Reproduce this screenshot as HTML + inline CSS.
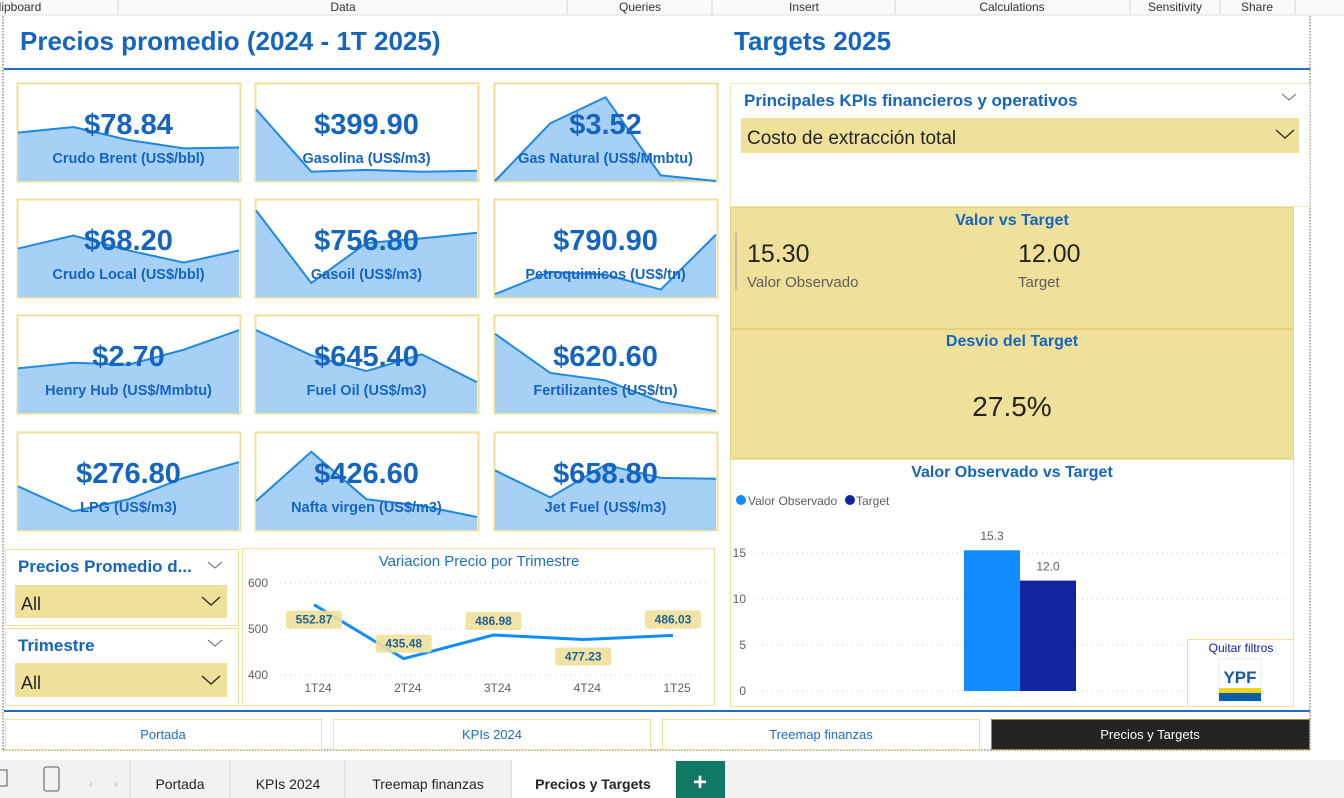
<!DOCTYPE html>
<html><head><meta charset="utf-8"><style>
body{margin:0;width:1344px;height:798px;overflow:hidden;background:#fff;font-family:"Liberation Sans",sans-serif}
svg{display:block}
text{font-family:"Liberation Sans",sans-serif}
</style></head><body>
<svg id="s" width="1344" height="798" viewBox="0 0 1344 798">
<g>
<rect x="0" y="0" width="1344" height="15" fill="#fafafa"/>
<line x1="0" y1="15" x2="1344" y2="15" stroke="#e1dfdd"/>
<g font-size="12" fill="#323130" text-anchor="middle">
<text x="20" y="11">lipboard</text>
<text x="343" y="11">Data</text>
<text x="640" y="11">Queries</text>
<text x="804" y="11">Insert</text>
<text x="1012" y="11">Calculations</text>
<text x="1175" y="11">Sensitivity</text>
<text x="1257" y="11">Share</text>
</g>
<g stroke="#d6d6d6"><line x1="118" y1="0" x2="118" y2="14"/><line x1="567" y1="0" x2="567" y2="14"/><line x1="712" y1="0" x2="712" y2="14"/><line x1="895" y1="0" x2="895" y2="14"/><line x1="1130" y1="0" x2="1130" y2="14"/><line x1="1220" y1="0" x2="1220" y2="14"/><line x1="1295" y1="0" x2="1295" y2="14"/></g>
</g>
<g stroke="#555" stroke-dasharray="1.5 1.5" fill="none">
<line x1="3" y1="16" x2="3" y2="750"/><line x1="1310" y1="16" x2="1310" y2="750"/><line x1="3" y1="750" x2="1310" y2="750"/>
</g>
<line x1="4" y1="69" x2="1310" y2="69" stroke="#1e6fc0" stroke-width="2"/>
<line x1="4" y1="711" x2="1310" y2="711" stroke="#1e6fc0" stroke-width="2"/>
<text x="20" y="50" font-size="26" font-weight="bold" fill="#1565c0">Precios promedio (2024 - 1T 2025)</text>
<text x="734" y="50" font-size="26" font-weight="bold" fill="#1565c0">Targets 2025</text>
<g id="cards"></g>

<g>
<rect x="5.5" y="549.5" width="233" height="76" fill="#fff" stroke="#efe09a"/>
<text x="18" y="572" font-size="17" font-weight="bold" fill="#1565c0">Precios Promedio d...</text>
<path d="M208 562l7 6 7-6" fill="none" stroke="#666"/>
<rect x="15" y="585" width="212" height="33" fill="#efe09a"/>
<text x="21" y="610" font-size="18" fill="#252423">All</text>
<path d="M202 597l9 8 9-8" fill="none" stroke="#333" stroke-width="1.5"/>
</g>
<g>
<rect x="5.5" y="628.5" width="233" height="77" fill="#fff" stroke="#efe09a"/>
<text x="18" y="651" font-size="17" font-weight="bold" fill="#1565c0">Trimestre</text>
<path d="M208 640l7 6 7-6" fill="none" stroke="#666"/>
<rect x="15" y="663" width="212" height="34" fill="#efe09a"/>
<text x="21" y="689" font-size="18" fill="#252423">All</text>
<path d="M202 676l9 8 9-8" fill="none" stroke="#333" stroke-width="1.5"/>
</g>

<g>
<rect x="242.5" y="548.5" width="472" height="157" fill="#fff" stroke="#efe09a"/>
<text x="479" y="566" font-size="15" fill="#1e6fc0" text-anchor="middle">Variacion Precio por Trimestre</text>
<g id="lc"></g>
</g>

<g>
<rect x="730.5" y="83.5" width="579" height="123" fill="#fff" stroke="#f3e9b8"/>
<text x="744" y="106" font-size="17" font-weight="bold" fill="#1565c0">Principales KPIs financieros y operativos</text>
<path d="M1282 94l7 6 7-6" fill="none" stroke="#666"/>
<rect x="741" y="118" width="558" height="35" fill="#efe09a"/>
<text x="747" y="144" font-size="19" fill="#252423">Costo de extracción total</text>
<path d="M1276 130l9 8 9-8" fill="none" stroke="#333" stroke-width="1.5"/>
</g>
<g>
<rect x="730.5" y="207.5" width="563" height="121" fill="#efe09a" stroke="#e6d27a"/>
<text x="1012" y="225" font-size="16" font-weight="bold" fill="#1565c0" text-anchor="middle">Valor vs Target</text>
<line x1="736" y1="233" x2="736" y2="290" stroke="#999"/>
<text x="747" y="262" font-size="25" fill="#252423">15.30</text>
<text x="747" y="287" font-size="15" fill="#605e5c">Valor Observado</text>
<text x="1018" y="262" font-size="25" fill="#252423">12.00</text>
<text x="1018" y="287" font-size="15" fill="#605e5c">Target</text>
</g>
<g>
<rect x="730.5" y="329.5" width="563" height="129" fill="#efe09a" stroke="#e6d27a"/>
<text x="1012" y="346" font-size="16" font-weight="bold" fill="#1565c0" text-anchor="middle">Desvio del Target</text>
<text x="1012" y="416" font-size="28" fill="#252423" text-anchor="middle">27.5%</text>
</g>
<g>
<rect x="730.5" y="459.5" width="563" height="247" fill="#fff" stroke="#efe09a"/>
<text x="1012" y="477" font-size="16" font-weight="bold" fill="#1565c0" text-anchor="middle">Valor Observado vs Target</text>
<circle cx="741" cy="500" r="5" fill="#118dff"/>
<text x="748" y="505" font-size="12" fill="#605e5c">Valor Observado</text>
<circle cx="850" cy="500" r="5" fill="#12239e"/>
<text x="856" y="505" font-size="12" fill="#605e5c">Target</text>
<g id="bc"></g>
</g>
<g>
<rect x="1187.5" y="639.5" width="106" height="67" fill="#fff" stroke="#efe09a"/>
<text x="1241" y="652" font-size="12" fill="#12239e" text-anchor="middle">Quitar filtros</text>
<rect x="1219" y="659" width="42" height="42" fill="#fff" stroke="#e6eef8"/>
<text x="1240" y="683" font-size="17" font-weight="bold" fill="#1a56a8" text-anchor="middle">YPF</text>
<rect x="1219" y="688" width="42" height="5" fill="#f2d21d"/>
<rect x="1219" y="693" width="42" height="8" fill="#0b5ea8"/>
</g>

<g font-size="13" text-anchor="middle">
<g><rect x="5.5" y="719.5" width="316" height="30" fill="#fff" stroke="#efe09a"/><text x="163" y="739" fill="#1e6fc0">Portada</text></g>
<g><rect x="333.5" y="719.5" width="317" height="30" fill="#fff" stroke="#efe09a"/><text x="492" y="739" fill="#1e6fc0">KPIs 2024</text></g>
<g><rect x="662.5" y="719.5" width="317" height="30" fill="#fff" stroke="#efe09a"/><text x="821" y="739" fill="#1e6fc0">Treemap finanzas</text></g>
<g><rect x="991.5" y="719.5" width="318" height="30" fill="#252423" stroke="#9a8a3a"/><text x="1150" y="739" fill="#fff">Precios y Targets</text></g>
</g>
<g>
<rect x="0" y="760" width="1344" height="38" fill="#f3f2f1"/>
<rect x="-5" y="770" width="12" height="16" fill="none" stroke="#555"/>
<rect x="44" y="767" width="15" height="24" rx="2" fill="none" stroke="#555"/>
<text x="89" y="788" font-size="12" fill="#bbb">‹</text><text x="114" y="788" font-size="12" fill="#bbb">›</text>
<g stroke="#d6d6d6"><line x1="130" y1="760" x2="130" y2="798"/><line x1="230" y1="760" x2="230" y2="798"/><line x1="345" y1="760" x2="345" y2="798"/><line x1="511" y1="760" x2="511" y2="798"/></g>
<rect x="512" y="760" width="163" height="38" fill="#fff"/>
<g font-size="14" fill="#252423" text-anchor="middle">
<text x="180" y="789">Portada</text>
<text x="288" y="789">KPIs 2024</text>
<text x="428" y="789">Treemap finanzas</text>
<text x="593" y="789" font-weight="bold">Precios y Targets</text>
</g>
<rect x="676" y="761" width="49" height="37" fill="#117865"/>
<text x="700" y="790" font-size="24" font-weight="bold" fill="#fff" text-anchor="middle">+</text>
</g>
</svg>
<script>
const NS="http://www.w3.org/2000/svg";
function mk(tag,attrs,parent){const e=document.createElementNS(NS,tag);for(const k in attrs)e.setAttribute(k,attrs[k]);parent.appendChild(e);return e;}
const cardLabels=["Crudo Brent (US$/bbl)","Gasolina (US$/m3)","Gas Natural (US$/Mmbtu)","Crudo Local (US$/bbl)","Gasoil (US$/m3)","Petroquimicos (US$/tn)","Henry Hub (US$/Mmbtu)","Fuel Oil (US$/m3)","Fertilizantes (US$/tn)","LPG (US$/m3)","Nafta virgen (US$/m3)","Jet Fuel (US$/m3)"];
const cardValues=["$78.84","$399.90","$3.52","$68.20","$756.80","$790.90","$2.70","$645.40","$620.60","$276.80","$426.60","$658.80"];
const sparkSeries=[[.52,.58,.44,.35,.36],[.77,.10,.12,.10,.11],[0,.62,.9,.06,0],[.52,.66,.5,.37,.5],[.93,.15,.58,.63,.69],[.03,.27,.24,.08,.67],[.48,.54,.52,.68,.89],[.89,.62,.45,.63,.33],[.85,.43,.35,.12,.02],[.47,.2,.33,.56,.73],[.31,.84,.33,.26,.14],[.64,.35,.70,.56,.55]];
const colX=[17,255,494], rowY=[83,199,315,432], cw=223, ch=98;
const cards=document.getElementById('cards');
cardLabels.forEach((lab,i)=>{
  const x=colX[i%3], y=rowY[Math.floor(i/3)];
  const g=mk('g',{},cards);
  
  
  mk('rect',{x:x+.5,y:y+.5,width:cw,height:ch,fill:'#fff',stroke:'#efe09a','stroke-width':2},g);
  const s=sparkSeries[i], n=s.length;
  const px=k=>x+1+k*(cw-2)/(n-1), py=v=>y+ch-v*ch*0.95;
  let d=s.map((v,k)=>(k?'L':'M')+px(k)+' '+py(v)).join(' ');
  const area=mk('path',{d:d+` L${px(n-1)} ${y+ch} L${px(0)} ${y+ch} Z`,fill:'#a7d0f7'},g);
  
  
  const ln=mk('path',{d:d,fill:'none',stroke:'#1e88e5','stroke-width':2},g);
  
  
  const tv=mk('text',{x:x+cw/2,y:y+51,'font-size':29,'font-weight':'bold',fill:'#1565c0','text-anchor':'middle'},g);
  tv.textContent=cardValues[i];
  
  
  const tl=mk('text',{x:x+cw/2,y:y+80,'font-size':14.5,'font-weight':'bold',fill:'#1565c0','text-anchor':'middle'},g);
  tl.textContent=lab;
  
  
});
const quarters=["1T24","2T24","3T24","4T24","1T25"];
const quarterPrices=[552.87,435.48,486.98,477.23,486.03];
const lcTicks=[400,500,600];
const lc=document.getElementById('lc');
const lx=i=>314+i*89.75, ly=v=>675-(v-400)*0.46;
lcTicks.forEach(t=>{
  const gl=mk('line',{x1:280,y1:ly(t),x2:710,y2:ly(t),stroke:'#ccc','stroke-dasharray':'1 4'},lc);
  
  
  const tt=mk('text',{x:268,y:ly(t)+4,'font-size':12,fill:'#605e5c','text-anchor':'end'},lc);
  tt.textContent=t;
  
  
});
quarters.forEach((q,i)=>{
  const t=mk('text',{x:lx(i)+4,y:692,'font-size':12,fill:'#605e5c','text-anchor':'middle'},lc);
  t.textContent=q;
  
  
});
const lp=mk('path',{d:quarterPrices.map((v,i)=>(i?'L':'M')+lx(i)+' '+ly(v)).join(' '),fill:'none',stroke:'#118dff','stroke-width':3},lc);


const lblOff=[15,-15,-14,17,-16];
quarterPrices.forEach((v,i)=>{
  const cy=ly(v)+lblOff[i];
  const r=mk('rect',{x:lx(i)-28,y:cy-9,width:56,height:18,rx:3,fill:'#efe09a','fill-opacity':.9},lc);
  
  
  const t=mk('text',{x:lx(i),y:cy+4,'font-size':12,'font-weight':'bold',fill:'#1f5f99','text-anchor':'middle'},lc);
  t.textContent=v.toFixed(2);
  
  
});
const barSeries=["Valor Observado","Target"];
const barValues=[15.3,12.0];
const barColors=["#118dff","#12239e"];
const barTicks=[0,5,10,15];
const bc=document.getElementById('bc');
const by=v=>691-v*9.2;
barTicks.forEach(t=>{
  const gl=mk('line',{x1:757,y1:by(t),x2:1285,y2:by(t),stroke:'#ccc','stroke-dasharray':'1 4'},bc);
  
  
  const tt=mk('text',{x:746,y:by(t)+4,'font-size':12,fill:'#605e5c','text-anchor':'end'},bc);
  tt.textContent=t;
  
  
});
barValues.forEach((v,i)=>{
  const x=964+i*56;
  const r=mk('rect',{x:x,y:by(v),width:56,height:by(0)-by(v),fill:barColors[i]},bc);
  
  
  const t=mk('text',{x:x+28,y:by(v)-10,'font-size':12,fill:'#605e5c','text-anchor':'middle'},bc);
  t.textContent=v.toFixed(1);
  
  
});
</script>
</body></html>
